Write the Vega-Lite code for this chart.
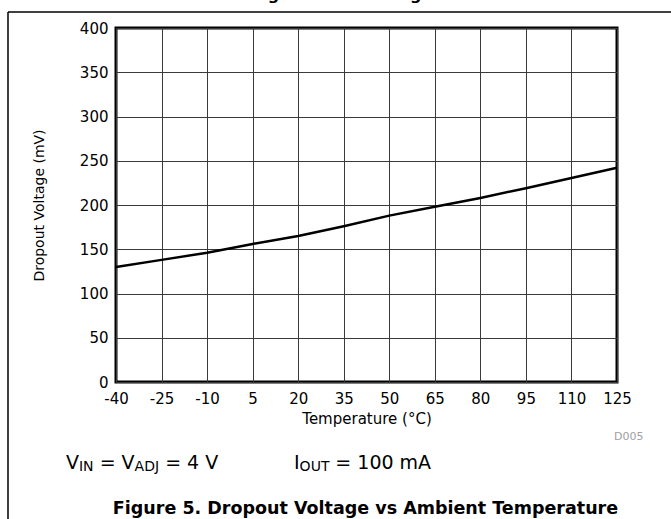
{
  "$schema": "https://vega.github.io/schema/vega-lite/v6.json",
  "width": 501,
  "height": 354,
  "autosize": {"type": "none"},
  "padding": {"left": 116, "top": 28, "right": 54, "bottom": 137},
  "background": "white",
  "config": {
    "font": "DejaVu Sans",
    "view": {"stroke": "black", "strokeWidth": 3},
    "axis": {
      "grid": true,
      "gridColor": "#3a3a3a",
      "gridWidth": 1,
      "gridOpacity": 1,
      "domain": false,
      "ticks": false,
      "labelColor": "black",
      "titleColor": "black",
      "labelFont": "DejaVu Sans",
      "titleFont": "DejaVu Sans",
      "labelFontSize": 15,
      "titleFontSize": 15,
      "titleFontWeight": "normal"
    }
  },
  "layer": [
    {
      "data": {
        "values": [
          {"temp": -40, "dropout": 130},
          {"temp": -25, "dropout": 138},
          {"temp": -10, "dropout": 146},
          {"temp": 5, "dropout": 156},
          {"temp": 20, "dropout": 165},
          {"temp": 35, "dropout": 176},
          {"temp": 50, "dropout": 188},
          {"temp": 65, "dropout": 198},
          {"temp": 80, "dropout": 208},
          {"temp": 95, "dropout": 219},
          {"temp": 110, "dropout": 230.5},
          {"temp": 125, "dropout": 242}
        ]
      },
      "mark": {"type": "line", "color": "black", "strokeWidth": 2.5},
      "encoding": {
        "x": {
          "field": "temp",
          "type": "quantitative",
          "scale": {"domain": [-40, 125], "nice": false, "zero": false},
          "axis": {
            "values": [-40, -25, -10, 5, 20, 35, 50, 65, 80, 95, 110, 125],
            "title": "Temperature (°C)",
            "labelExpr": "replace(datum.label, '−', '-')",
            "labelFlush": false,
            "labelPadding": 9,
            "titlePadding": 5
          }
        },
        "y": {
          "field": "dropout",
          "type": "quantitative",
          "scale": {"domain": [0, 400], "nice": false, "zero": true},
          "axis": {
            "values": [0, 50, 100, 150, 200, 250, 300, 350, 400],
            "title": "Dropout Voltage (mV)",
            "titleFontSize": 14,
            "labelPadding": 8,
            "titlePadding": 33
          }
        }
      }
    },
    {
      "data": {"values": [{}]},
      "layer": [
        {
          "mark": {"type": "rule", "color": "black", "strokeWidth": 1.5},
          "encoding": {"x": {"datum": -75.57}, "x2": {"datum": 142.8}, "y": {"datum": 418.1}}
        },
        {
          "mark": {"type": "rule", "color": "black", "strokeWidth": 1.5},
          "encoding": {"x": {"datum": -75.57}, "y": {"datum": 418.1}, "y2": {"datum": -154.8}}
        },
        {
          "mark": {"type": "text", "align": "center", "baseline": "alphabetic", "fontSize": 16, "fontWeight": "bold", "color": "black"},
          "encoding": {"x": {"datum": 43.0}, "y": {"datum": 431.1}, "text": {"value": "Figure 4. Load Regulation"}}
        },
        {
          "mark": {"type": "text", "align": "left", "baseline": "alphabetic", "fontSize": 11, "color": "#a0a0a0"},
          "encoding": {"x": {"datum": 124.0}, "y": {"datum": -65.5}, "text": {"value": "D005"}}
        },
        {
          "mark": {"type": "text", "align": "left", "baseline": "alphabetic", "fontSize": 19, "color": "black"},
          "encoding": {"x": {"datum": -56.47}, "y": {"datum": -98.3}, "text": {"value": "V"}}
        },
        {
          "mark": {"type": "text", "align": "left", "baseline": "alphabetic", "fontSize": 14, "color": "black"},
          "encoding": {"x": {"datum": -52.19}, "y": {"datum": -100.6}, "text": {"value": "IN"}}
        },
        {
          "mark": {"type": "text", "align": "left", "baseline": "alphabetic", "fontSize": 19, "color": "black"},
          "encoding": {"x": {"datum": -45.39}, "y": {"datum": -98.3}, "text": {"value": "= V"}}
        },
        {
          "mark": {"type": "text", "align": "left", "baseline": "alphabetic", "fontSize": 14, "color": "black"},
          "encoding": {"x": {"datum": -33.87}, "y": {"datum": -100.6}, "text": {"value": "ADJ"}}
        },
        {
          "mark": {"type": "text", "align": "left", "baseline": "alphabetic", "fontSize": 19, "color": "black"},
          "encoding": {"x": {"datum": -23.81}, "y": {"datum": -98.3}, "text": {"value": "= 4 V"}}
        },
        {
          "mark": {"type": "text", "align": "left", "baseline": "alphabetic", "fontSize": 19, "color": "black"},
          "encoding": {"x": {"datum": 18.62}, "y": {"datum": -98.3}, "text": {"value": "I"}}
        },
        {
          "mark": {"type": "text", "align": "left", "baseline": "alphabetic", "fontSize": 14, "color": "black"},
          "encoding": {"x": {"datum": 20.47}, "y": {"datum": -100.6}, "text": {"value": "OUT"}}
        },
        {
          "mark": {"type": "text", "align": "left", "baseline": "alphabetic", "fontSize": 19, "color": "black"},
          "encoding": {"x": {"datum": 32.24}, "y": {"datum": -98.3}, "text": {"value": "= 100 mA"}}
        },
        {
          "mark": {"type": "text", "align": "center", "baseline": "alphabetic", "fontSize": 17.5, "fontWeight": "bold", "color": "black"},
          "encoding": {"x": {"datum": 42.17}, "y": {"datum": -149.2}, "text": {"value": "Figure 5. Dropout Voltage vs Ambient Temperature"}}
        }
      ]
    }
  ]
}
